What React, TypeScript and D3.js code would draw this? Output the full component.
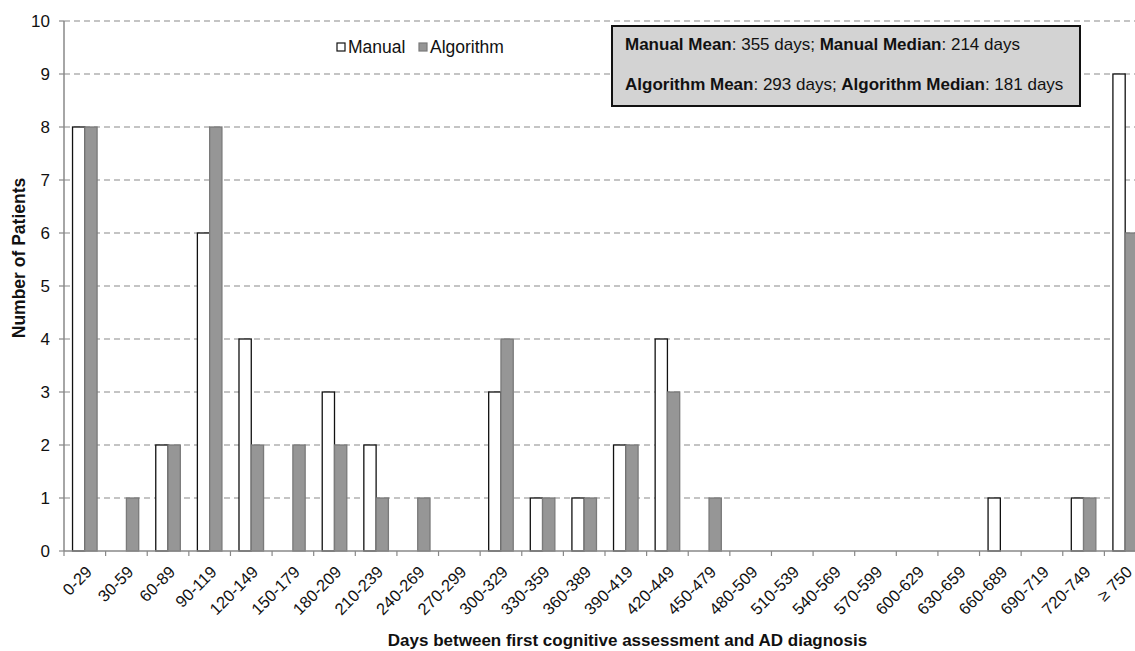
import React from "react";
import * as d3 from "d3";

const categories = ["0-29","30-59","60-89","90-119","120-149","150-179","180-209","210-239","240-269","270-299","300-329","330-359","360-389","390-419","420-449","450-479","480-509","510-539","540-569","570-599","600-629","630-659","660-689","690-719","720-749","≥ 750"];
const manual = [8,0,2,6,4,0,3,2,0,0,3,1,1,2,4,0,0,0,0,0,0,0,1,0,1,9];
const algorithm = [8,1,2,8,2,2,2,1,1,0,4,1,1,2,3,1,0,0,0,0,0,0,0,0,1,6];
const yTicks = [0,1,2,3,4,5,6,7,8,9,10];
const seriesNames = ["Manual", "Algorithm"];

const W = 1135, H = 651;
const left = 64, right = 1146, top = 21, bottom = 551;
const font = "'Liberation Sans', Arial, sans-serif";

export default function App() {
  const x = d3.scaleBand<string>().domain(categories).range([left, right]).paddingInner(0).paddingOuter(0);
  const y = d3.scaleLinear().domain([0, 10]).range([bottom, top]);
  const bw = x.bandwidth();
  const barW = bw * 0.295;
  const series = [
    { name: seriesNames[0], values: manual, fill: "#ffffff", stroke: "#111" },
    { name: seriesNames[1], values: algorithm, fill: "#969696", stroke: "#7a7a7a" },
  ];
  return (
    <svg width={W} height={H} style={{ position: "absolute", left: 0, top: 0, background: "#fff" }} fontFamily={font}>
      {/* grid */}
      {yTicks.filter(t => t > 0).map(t => (
        <line key={"g" + t} x1={left} x2={right} y1={y(t)} y2={y(t)} stroke="#8a8a8a" strokeWidth={1.2} strokeDasharray="6,4" />
      ))}
      {/* bars */}
      {series.map((s, si) => s.values.map((v, i) => {
        if (v === 0) return null;
        const cx = (x(categories[i]) as number) + bw / 2;
        const x0 = cx - barW + si * barW;
        return <rect key={s.name + i} x={x0} y={y(v)} width={barW} height={y(0) - y(v)} fill={s.fill} stroke={s.stroke} strokeWidth={1.3} />;
      }))}
      {/* y axis */}
      <line x1={left} x2={left} y1={top} y2={bottom} stroke="#888" strokeWidth={1.5} />
      {yTicks.map(t => (
        <g key={"y" + t}>
          <line x1={left - 5} x2={left} y1={y(t)} y2={y(t)} stroke="#888" strokeWidth={1.2} />
          <text x={left - 14} y={y(t)} dy="0.35em" textAnchor="end" fontSize={17} fill="#111">{t}</text>
        </g>
      ))}
      {/* x axis */}
      <line x1={left} x2={right} y1={bottom} y2={bottom} stroke="#888" strokeWidth={1.5} />
      {categories.map((c, i) => (
        <line key={"xt" + i} x1={(x(c) as number) + bw} x2={(x(c) as number) + bw} y1={bottom} y2={bottom + 5} stroke="#888" strokeWidth={1.2} />
      ))}
      <line x1={left} x2={left} y1={bottom} y2={bottom + 5} stroke="#888" strokeWidth={1.2} />
      {categories.map((c, i) => {
        const cx = (x(c) as number) + bw / 2 + 4;
        return (
          <text key={"xl" + i} transform={`translate(${cx},${bottom + 18}) rotate(-45)`} textAnchor="end" dy="0.35em" fontSize={16.5} fill="#111">{c}</text>
        );
      })}
      {/* axis titles */}
      <text transform={`translate(25,258) rotate(-90)`} textAnchor="middle" fontSize={17.5} fontWeight="bold" fill="#111">Number of Patients</text>
      <text x={627.5} y={646} textAnchor="middle" fontSize={17} fontWeight="bold" fill="#111">Days between first cognitive assessment and AD diagnosis</text>
      {/* legend */}
      <rect x={337} y={43} width={8} height={8} fill="#fff" stroke="#111" strokeWidth={1.2} />
      <text x={348} y={52.5} fontSize={17.5} fill="#111">{seriesNames[0]}</text>
      <rect x={419} y={43} width={8} height={8} fill="#969696" stroke="#7a7a7a" strokeWidth={1.2} />
      <text x={430} y={52.5} fontSize={17.5} fill="#111">{seriesNames[1]}</text>
      {/* annotation box */}
      <rect x={612} y={26} width={468} height={80} fill="#d3d3d3" stroke="#111" strokeWidth={2} />
      <text x={625} y={50} fontSize={17} fill="#111">
        <tspan fontWeight="bold">Manual Mean</tspan>: 355 days; <tspan fontWeight="bold">Manual Median</tspan>: 214 days
      </text>
      <text x={625} y={90} fontSize={17} fill="#111">
        <tspan fontWeight="bold">Algorithm Mean</tspan>: 293 days; <tspan fontWeight="bold">Algorithm Median</tspan>: 181 days
      </text>
    </svg>
  );
}
